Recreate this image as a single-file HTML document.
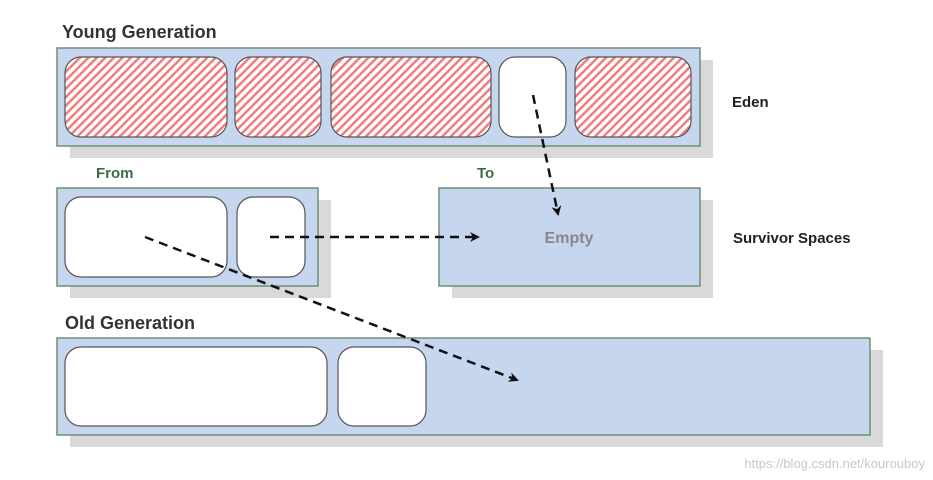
<!DOCTYPE html>
<html><head><meta charset="utf-8"><style>
body{margin:0;background:#fff;}
svg{display:block;font-family:"Liberation Sans",sans-serif;}
</style></head><body>
<svg width="933" height="480" viewBox="0 0 933 480" xmlns="http://www.w3.org/2000/svg">
<defs>
<pattern id="h" patternUnits="userSpaceOnUse" width="6" height="6" patternTransform="rotate(45)">
<rect width="6" height="6" fill="#fff"/><rect width="2.5" height="6" fill="#f07c7c"/>
</pattern>
<marker id="a" markerWidth="10" markerHeight="10" refX="8" refY="5" orient="auto" markerUnits="userSpaceOnUse" viewBox="0 0 10 10">
<path d="M0,0 L10,5 L0,10 L3,5z" fill="#111"/></marker>
</defs>
<rect width="933" height="480" fill="#fff"/>
<!-- shadows -->
<rect x="70" y="60" width="643" height="98" fill="#d9d9d9"/>
<rect x="70" y="200" width="261" height="98" fill="#d9d9d9"/>
<rect x="452" y="200" width="261" height="98" fill="#d9d9d9"/>
<rect x="70" y="350" width="813" height="97" fill="#d9d9d9"/>
<!-- young -->
<text x="62" y="38" font-size="18" font-weight="bold" fill="#333">Young Generation</text>
<rect x="57" y="48" width="643" height="98" fill="#c5d6ee" stroke="#6e8f78" stroke-width="1.5"/>
<g stroke="#555" stroke-width="1.2">
<rect x="65" y="57" width="162" height="80" rx="16" fill="url(#h)"/>
<rect x="235" y="57" width="86" height="80" rx="16" fill="url(#h)"/>
<rect x="331" y="57" width="160" height="80" rx="16" fill="url(#h)"/>
<rect x="499" y="57" width="67" height="80" rx="16" fill="#fff"/>
<rect x="575" y="57" width="116" height="80" rx="16" fill="url(#h)"/>
</g>
<text x="732" y="107" font-size="15" font-weight="bold" fill="#222">Eden</text>
<!-- survivor -->
<text x="96" y="178" font-size="15" font-weight="bold" fill="#3d6b48">From</text>
<text x="477" y="178" font-size="15" font-weight="bold" fill="#3d6b48">To</text>
<rect x="57" y="188" width="261" height="98" fill="#c5d6ee" stroke="#6e8f78" stroke-width="1.5"/>
<g stroke="#555" stroke-width="1.2" fill="#fff">
<rect x="65" y="197" width="162" height="80" rx="16"/>
<rect x="237" y="197" width="68" height="80" rx="16"/>
</g>
<rect x="439" y="188" width="261" height="98" fill="#c5d6ee" stroke="#6e8f78" stroke-width="1.5"/>
<text x="569" y="243" font-size="16" font-weight="bold" fill="#888" text-anchor="middle">Empty</text>
<text x="733" y="243" font-size="15" font-weight="bold" fill="#222">Survivor Spaces</text>
<!-- old -->
<text x="65" y="329" font-size="18" font-weight="bold" fill="#333">Old Generation</text>
<rect x="57" y="338" width="813" height="97" fill="#c5d6ee" stroke="#6e8f78" stroke-width="1.5"/>
<g stroke="#555" stroke-width="1.2" fill="#fff">
<rect x="65" y="347" width="262" height="79" rx="16"/>
<rect x="338" y="347" width="88" height="79" rx="16"/>
</g>
<!-- arrows -->
<g stroke="#111" stroke-width="2.5" stroke-dasharray="9,6" fill="none">
<line x1="533" y1="95" x2="558" y2="214" marker-end="url(#a)"/>
<line x1="270" y1="237" x2="478" y2="237" marker-end="url(#a)"/>
<line x1="145" y1="237" x2="517" y2="380" marker-end="url(#a)"/>
</g>
<text x="925" y="468" font-size="13" fill="#c8c8c8" text-anchor="end">https://blog.csdn.net/kourouboy</text>
</svg>
</body></html>
